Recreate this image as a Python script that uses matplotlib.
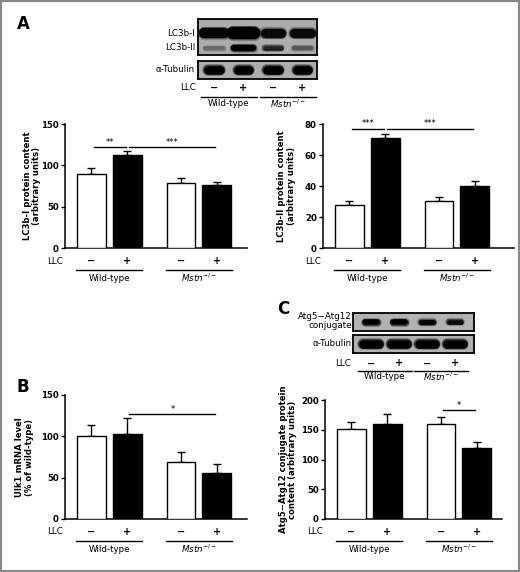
import matplotlib
matplotlib.use("Agg")
import matplotlib.pyplot as plt
from matplotlib import transforms
from matplotlib.patches import Rectangle

plt.rcParams["font.family"] = ["DejaVu Sans"]
plt.rcParams["mathtext.fontset"] = "dejavusans"

# ---- data ----
groups = ["Wild-type", r"$\it{Mstn}^{-/-}$"]
llc_marks = ["\u2212", "+", "\u2212", "+"]

lc3b1_mean = [90, 113, 79, 76.5]
lc3b1_sem = [7, 5, 5.5, 4]
lc3b1_sig = [(0, 1, "**", 122), (1, 3, "***", 122)]

lc3b2_mean = [28, 71, 30.5, 40]
lc3b2_sem = [2.8, 3, 2.5, 3.5]
lc3b2_sig = [(0, 1, "***", 77), (1, 3, "***", 77)]

ulk1_mean = [100, 102.5, 69, 56]
ulk1_sem = [13.5, 19.5, 11.5, 10]
ulk1_sig = [(1, 3, "*", 127)]

atg_mean = [151, 160, 160, 118.5]
atg_sem = [12.5, 16.5, 11, 10.5]
atg_sig = [(2, 3, "*", 183)]

# blot band darkness (0 = none, 1 = black)
lc3b1_band = [0.97, 1.0, 0.95, 0.95]
lc3b2_band = [0.4, 1.0, 0.8, 0.5]
tubulin_a_band = [1.0, 1.0, 1.0, 1.0]
atg_band = [1.0, 1.0, 0.97, 0.95]
tubulin_c_band = [1.0, 1.0, 1.0, 1.0]

W, H = 520, 572
fig = plt.figure(figsize=(W / 100, H / 100), dpi=100)
bar_pos = [0, 1, 2.5, 3.5]
lane_pos = [0, 1, 2, 3]


def px_axes(x0, y0, x1, y1):
    return fig.add_axes([x0 / W, 1 - y1 / H, (x1 - x0) / W, (y1 - y0) / H])


def under_labels(ax, xs, llc_dy, line_dy, lab_dy, half):
    tr = ax.get_xaxis_transform()
    llc_tr = transforms.offset_copy(tr, fig=fig, y=-llc_dy, units="dots")
    for x, m in zip(xs, llc_marks):
        ax.text(x, 0, m, transform=llc_tr, ha="center", va="center",
                fontsize=7, fontweight="bold", clip_on=False)
    ax.text(0, 0, "LLC", ha="right", va="center", fontsize=6.3, clip_on=False,
            transform=transforms.offset_copy(ax.transAxes, fig=fig, x=-2, y=-llc_dy, units="dots"))
    line_tr = transforms.offset_copy(tr, fig=fig, y=-line_dy, units="dots")
    lab_tr = transforms.offset_copy(tr, fig=fig, y=-lab_dy, units="dots")
    for g, name in enumerate(groups):
        a, b = xs[2 * g], xs[2 * g + 1]
        ax.plot([a - half, b + half], [0, 0], color="black", lw=1,
                transform=line_tr, clip_on=False)
        ax.text((a + b) / 2, 0, name, transform=lab_tr, ha="center", va="center",
                fontsize=6.3, clip_on=False)


def bar_panel(box, means, sems, ymax, ystep, sig, ylabel, label_x):
    ax = px_axes(*box)
    colors = ["white", "black", "white", "black"]
    ax.bar(bar_pos, means, width=0.8, color=colors, edgecolor="black",
           linewidth=1, zorder=3)
    ax.errorbar(bar_pos, means, yerr=[[0] * len(means), sems], fmt="none",
                ecolor="black", elinewidth=1, capsize=2.6, capthick=1, zorder=2)
    left = -0.74
    ax.set_xlim(left, left + (box[2] - box[0]) / 35.8)
    ax.set_ylim(0, ymax)
    ax.set_yticks(range(0, ymax + 1, ystep))
    ax.set_xticks([])
    for s in ["top", "right"]:
        ax.spines[s].set_visible(False)
    for s in ["left", "bottom"]:
        ax.spines[s].set_linewidth(1.1)
    ax.tick_params(axis="y", length=3, width=1, pad=1.5, labelsize=6.2)
    for t in ax.get_yticklabels():
        t.set_fontweight("bold")
    for i, j, stars, lvl in sig:
        a, b = bar_pos[i] + 0.06, bar_pos[j] - 0.04
        ax.plot([a, b], [lvl, lvl], color="black", lw=1, clip_on=False)
        ax.annotate(stars, ((a + b) / 2, lvl), xytext=(0, 0.5), textcoords="offset pixels",
                    ha="center", va="bottom", fontsize=6, annotation_clip=False)
    ycen = (box[1] + box[3]) / 2
    fig.text(label_x / W, 1 - ycen / H, ylabel, rotation=90, ha="center",
             va="center", fontsize=6.1, fontweight="bold", linespacing=1.1)
    under_labels(ax, bar_pos, 13, 21.5, 30, 0.42)
    return ax


def blot_axes(box, xlim, bg="#adadad"):
    ax = px_axes(*box)
    ax.set_xlim(*xlim)
    ax.set_ylim(1, 0)
    ax.set_facecolor(bg)
    ax.set_xticks([])
    ax.set_yticks([])
    for s in ax.spines.values():
        s.set_linewidth(1.3)
    return ax


def draw_bands(ax, darkness, ypos, heights, widths):
    for x, d, h, w in zip(lane_pos, darkness, heights, widths):
        c = (0.68 * (1 - d),) * 3
        lw = h * 0.72
        for extra, alpha in [(2.5, 0.25), (1.2, 0.5), (0, 1.0)]:
            ax.plot([x - w / 2, x + w / 2], [ypos, ypos], color=c, alpha=alpha,
                    lw=lw + extra, solid_capstyle="round")


# ---- panel A blot ----
a_xlim = (-0.54, 3.49)
blot_a1 = blot_axes((198, 19, 317, 55), a_xlim)
draw_bands(blot_a1, lc3b1_band, 0.39, [10, 12, 9, 9], [0.66, 0.7, 0.52, 0.55])
draw_bands(blot_a1, lc3b2_band, 0.8, [3.5, 6, 4.5, 4], [0.6, 0.62, 0.55, 0.55])
blot_a2 = blot_axes((198, 61, 317, 79), a_xlim)
draw_bands(blot_a2, tubulin_a_band, 0.5, [8.5] * 4, [0.4, 0.4, 0.4, 0.4])
under_labels(blot_a2, lane_pos, 9, 18, 24.5, 0.45)
for txt, y in [("LC3b-I", 33), ("LC3b-II", 47)]:
    fig.text(195 / W, 1 - y / H, txt, ha="right", va="center", fontsize=6.3)
fig.text(195 / W, 1 - 70 / H, "\u03b1-Tubulin", ha="right", va="center", fontsize=6.3)

# ---- panel C blot ----
c_xlim = (-0.64, 3.68)
blot_c1 = blot_axes((353, 313, 474, 331), c_xlim, bg="#b2b2b2")
draw_bands(blot_c1, atg_band, 0.52, [5.5, 5.5, 5, 4.5], [0.45, 0.45, 0.4, 0.45])
blot_c2 = blot_axes((353, 335, 474, 353), c_xlim, bg="#b2b2b2")
draw_bands(blot_c2, tubulin_c_band, 0.5, [8.5] * 4, [0.55, 0.55, 0.55, 0.55])
under_labels(blot_c2, lane_pos, 10.5, 17.7, 23.7, 0.45)
fig.text(352 / W, 1 - 316.5 / H, "Atg5\u2212Atg12", ha="right", va="center", fontsize=6.3)
fig.text(352 / W, 1 - 326 / H, "conjugate", ha="right", va="center", fontsize=6.3)
fig.text(352 / W, 1 - 344 / H, "\u03b1-Tubulin", ha="right", va="center", fontsize=6.3)

# ---- bar panels ----
bar_panel((65, 124, 247, 248.3), lc3b1_mean, lc3b1_sem, 150, 50, lc3b1_sig,
          "LC3b-I protein content\n(arbitrary units)", 32)
bar_panel((323, 124.3, 514, 248.3), lc3b2_mean, lc3b2_sem, 80, 20, lc3b2_sig,
          "LC3b-II protein content\n(arbitrary units)", 286.5)
bar_panel((65, 395, 247, 519), ulk1_mean, ulk1_sem, 150, 50, ulk1_sig,
          "Ulk1 mRNA level\n(% of wild-type)", 24.5)
bar_panel((325, 400, 502, 519), atg_mean, atg_sem, 200, 50, atg_sig,
          "Atg5\u2212Atg12 conjugate protein\ncontent (arbitrary units)", 288)

# panel letters
for letter, x, y in [("A", 17, 24), ("B", 16, 387), ("C", 277, 309)]:
    fig.text(x / W, 1 - y / H, letter, ha="left", va="center", fontsize=12,
             fontweight="bold")

fig.patches.append(Rectangle((0, 0), 1, 1, transform=fig.transFigure, fill=False,
                             edgecolor="#8a8a8a", linewidth=3))

fig.savefig("out.png", dpi=100)
